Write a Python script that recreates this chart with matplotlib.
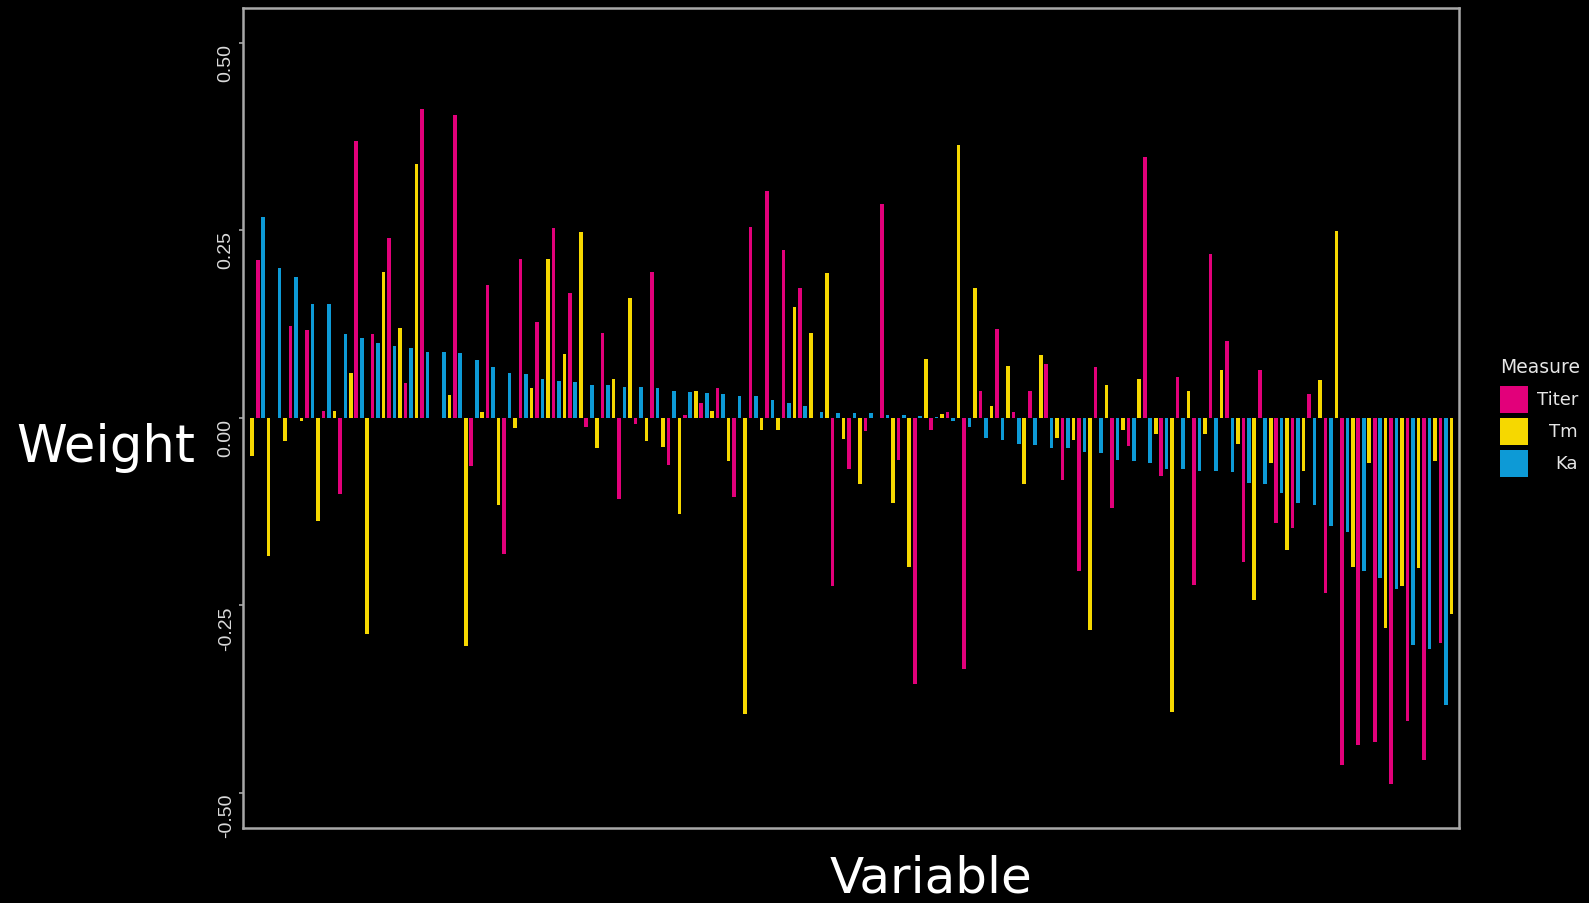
import numpy as np
import matplotlib
matplotlib.use("Agg")
import matplotlib.pyplot as plt
from matplotlib.patches import Rectangle

# ---------------- data ----------------
measures = ["Titer", "Tm", "Ka"]
colors = ["#E2007A", "#F6D800", "#0D9AD6"]

titer = [0.210, 0.000, 0.122, 0.117, 0.009, -0.102, 0.369, 0.111, 0.240, 0.046,
         0.411, 0.000, 0.403, -0.065, 0.177, -0.182, 0.211, 0.128, 0.253, 0.166,
         -0.0125, 0.113, -0.109, -0.008, 0.194, -0.063, 0.003, 0.019, 0.040, -0.106,
         0.254, 0.302, 0.224, 0.173, 0.000, -0.225, -0.068, -0.018, 0.285, -0.056,
         -0.355, -0.016, 0.008, -0.335, 0.036, 0.118, 0.008, 0.035, 0.072, -0.083,
         -0.204, 0.068, -0.120, -0.038, 0.348, -0.078, 0.054, -0.223, 0.218, 0.102,
         -0.193, 0.064, -0.140, -0.147, 0.032, -0.234, -0.463, -0.436, -0.432, -0.489,
         -0.405, -0.456, -0.300, np.nan]

tm = [-0.051, -0.184, -0.031, -0.004, -0.138, 0.009, 0.060, -0.289, 0.194, 0.119,
      0.338, 0.000, 0.030, -0.305, 0.008, -0.116, -0.014, 0.040, 0.211, 0.085,
      0.247, -0.040, 0.051, 0.159, -0.031, -0.039, -0.128, 0.035, 0.009, -0.058,
      -0.395, -0.016, -0.016, 0.148, 0.113, 0.193, -0.029, -0.089, 0.000, -0.114,
      -0.199, 0.078, 0.005, 0.363, 0.173, 0.015, 0.069, -0.089, 0.083, -0.027,
      -0.030, -0.283, 0.044, -0.016, 0.051, -0.022, -0.393, 0.035, -0.022, 0.064,
      -0.035, -0.243, -0.061, -0.176, -0.071, 0.050, 0.249, -0.199, -0.061, -0.280,
      -0.224, -0.201, -0.058, -0.262]

ka = [0.267, 0.200, 0.188, 0.152, 0.151, 0.112, 0.106, 0.100, 0.096, 0.093,
      0.088, 0.087, 0.086, 0.077, 0.068, 0.060, 0.058, 0.051, 0.049, 0.047,
      0.044, 0.044, 0.041, 0.041, 0.039, 0.035, 0.034, 0.033, 0.032, 0.029,
      0.029, 0.024, 0.019, 0.015, 0.008, 0.0065, 0.0065, 0.0065, 0.004, 0.003,
      0.002, 0.001, -0.005, -0.0125, -0.027, -0.030, -0.035, -0.036, -0.040, -0.041,
      -0.046, -0.047, -0.057, -0.058, -0.060, -0.068, -0.068, -0.071, -0.071, -0.073,
      -0.087, -0.089, -0.100, -0.114, -0.117, -0.145, -0.153, -0.204, -0.214, -0.229,
      -0.303, -0.308, -0.383, np.nan]

variables = ["V%d" % (i + 1) for i in range(len(tm))]

yticks = [-0.50, -0.25, 0.00, 0.25, 0.50]
yticklabels = ["-0.50", "-0.25", "0.00", "0.25", "0.50"]

# ---------------- figure ----------------
W, H = 1589, 904
fig = plt.figure(figsize=(W / 100, H / 100), dpi=100, facecolor="black")
ax = fig.add_axes([243 / W, 1 - 829 / H, (1459 - 243) / W, (829 - 9) / H])
ax.set_facecolor("black")

x = np.arange(1, len(variables) + 1)
bw = 0.22
series = {"Titer": titer, "Tm": tm, "Ka": ka}
offsets = {"Tm": -1 / 3, "Titer": 0.0, "Ka": 1 / 3}
for m, c in zip(measures, colors):
    vals = np.array(series[m], dtype=float)
    ok = ~np.isnan(vals)
    ax.bar(x[ok] + offsets[m], vals[ok], width=bw, color=c, linewidth=0)

ax.set_xlim(0.105, 74.13)
ax.set_ylim(-0.547, 0.546)
ax.set_xticks([])
ax.set_yticks(yticks)
ax.set_yticklabels(yticklabels)
for lab in ax.get_yticklabels():
    lab.set_rotation(90)
    lab.set_va("top")
    lab.set_ha("right")
    lab.set_color("#DADADA")
    lab.set_fontsize(14)
    lab.set_family("Liberation Sans")
ax.tick_params(axis="y", colors="#A8A8A8", length=3, width=1.2, pad=3,
               labelcolor="#DADADA")
for sp in ax.spines.values():
    sp.set_color("#A8A8A8")
    sp.set_linewidth(1.8)

# axis titles
fig.text(105.5 / W, 1 - 462 / H, "Weight", ha="center", va="baseline",
         fontsize=37, color="white", family="DejaVu Sans")
fig.text(931 / W, 1 - 893 / H, "Variable", ha="center", va="baseline",
         fontsize=36, color="white", family="DejaVu Sans")

# legend
fig.text(1500 / W, 1 - 368 / H, "Measure", ha="left", va="center",
         fontsize=13.5, color="#E6E6E6", family="DejaVu Sans")
key_top = [386.5, 418.5, 450.5]
for m, c, yt in zip(measures, colors, key_top):
    fig.add_artist(Rectangle((1500 / W, 1 - (yt + 27.5) / H), 28 / W, 27.5 / H,
                             transform=fig.transFigure, facecolor=c,
                             edgecolor="none"))
    fig.text(1578 / W, 1 - (yt + 13.75) / H, m, ha="right", va="center",
             fontsize=13, color="#E6E6E6", family="DejaVu Sans")

fig.savefig("out.png", dpi=100, facecolor="black")
